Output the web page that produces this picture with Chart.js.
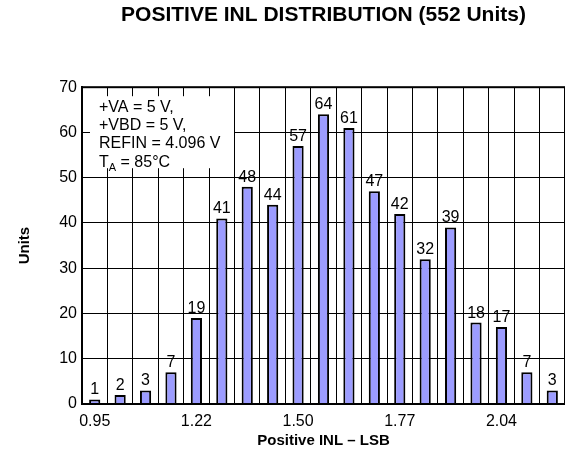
<!DOCTYPE html>
<html>
<head>
<meta charset="utf-8">
<script src="https://cdn.jsdelivr.net/npm/chart.js@4/dist/chart.umd.min.js"></script>
<style>
  body { margin: 0; background: #fff; }
  canvas { display: block; }
</style>
</head>
<body>
<canvas id="inl" width="565" height="456"></canvas>
<script>
// bin centres (LSB) and unit counts
const bins = ['0.95', '1.02', '1.09', '1.15', '1.22', '1.29', '1.36', '1.43', '1.50', '1.56',
              '1.63', '1.70', '1.77', '1.83', '1.90', '1.97', '2.04', '2.10', '2.17'];
const units = [1, 2, 3, 7, 19, 41, 48, 44, 57, 64, 61, 47, 42, 32, 39, 18, 17, 7, 3];
const shownTicks = ['0.95', '1.22', '1.50', '1.77', '2.04'];
const noteLines = ['+VA = 5 V,', '+VBD = 5 V,', 'REFIN = 4.096 V'];

const FONT = '"Liberation Sans", Arial, sans-serif';

// frame round the plot area + test conditions box + value labels
const extras = {
    id: 'extras',
    beforeDatasetsDraw(chart) {
        const ctx = chart.ctx;
        const a = chart.chartArea;
        ctx.save();
        ctx.fillStyle = '#fff';
        ctx.fillRect(a.left + 8, a.top + 9, 144, 72);
        ctx.fillStyle = '#000';
        ctx.textBaseline = 'alphabetic';
        ctx.font = '16px ' + FONT;
        const x0 = a.left + 17;
        noteLines.forEach((t, i) => ctx.fillText(t, x0, a.top + 25 + i * 18));
        const by = a.top + 25 + 3 * 18 + 1;
        ctx.fillText('T', x0, by);
        let x = x0 + ctx.measureText('T').width;
        ctx.font = '11px ' + FONT;
        ctx.fillText('A', x, by + 4);
        x += ctx.measureText('A').width;
        ctx.font = '16px ' + FONT;
        ctx.fillText(' = 85°C', x, by);
        ctx.restore();
    },
    afterDatasetsDraw(chart) {
        const ctx = chart.ctx;
        const meta = chart.getDatasetMeta(0);
        ctx.save();
        ctx.fillStyle = '#000';
        ctx.font = '16px ' + FONT;
        ctx.textAlign = 'center';
        ctx.textBaseline = 'alphabetic';
        meta.data.forEach((bar, i) => {
            ctx.fillText(String(units[i]), bar.x, bar.y - 5);
        });
        const a = chart.chartArea;
        ctx.strokeStyle = '#000';
        ctx.lineWidth = 2;
        ctx.strokeRect(a.left, a.top, a.right - a.left, a.bottom - a.top);
        ctx.restore();
    }
};

new Chart(document.getElementById('inl'), {
    type: 'bar',
    data: {
        labels: bins,
        datasets: [{
            data: units,
            backgroundColor: '#9c9cff',
            borderColor: '#000',
            borderWidth: 2,
            barPercentage: 0.44,
            categoryPercentage: 1.0
        }]
    },
    options: {
        responsive: false,
        animation: false,
        events: [],
        layout: { padding: 0 },
        plugins: {
            legend: { display: false },
            tooltip: { enabled: false },
            title: {
                display: true,
                text: 'POSITIVE INL DISTRIBUTION (552 Units)',
                color: '#000',
                fullSize: false,
                font: { family: FONT, size: 21, weight: 'bold', lineHeight: 1.2 },
                padding: { top: 3, bottom: 59 }
            }
        },
        scales: {
            x: {
                afterFit(scale) { scale.height = 52; },
                grid: { color: '#000', lineWidth: 1, drawTicks: false, offset: true },
                border: { color: '#000', width: 2 },
                ticks: {
                    color: '#000',
                    font: { family: FONT, size: 16 },
                    padding: 8,
                    autoSkip: false,
                    maxRotation: 0,
                    callback(v) {
                        const l = bins[v];
                        return shownTicks.includes(l) ? l : '';
                    }
                },
                title: {
                    display: true,
                    text: 'Positive INL – LSB',
                    color: '#000',
                    font: { family: FONT, size: 15, weight: 'bold', lineHeight: 1.2 },
                    padding: { top: 0, bottom: 6 }
                }
            },
            y: {
                min: 0,
                max: 70,
                afterFit(scale) { scale.width = 82; },
                grid: { color: '#000', lineWidth: 1, drawTicks: false },
                border: { color: '#000', width: 2 },
                ticks: {
                    stepSize: 10,
                    color: '#000',
                    font: { family: FONT, size: 16 },
                    padding: 5
                },
                title: {
                    display: true,
                    text: 'Units',
                    color: '#000',
                    font: { family: FONT, size: 15, weight: 'bold', lineHeight: 1.2 },
                    padding: { top: 16, bottom: 0 }
                }
            }
        }
    },
    plugins: [extras]
});
</script>
</body>
</html>
